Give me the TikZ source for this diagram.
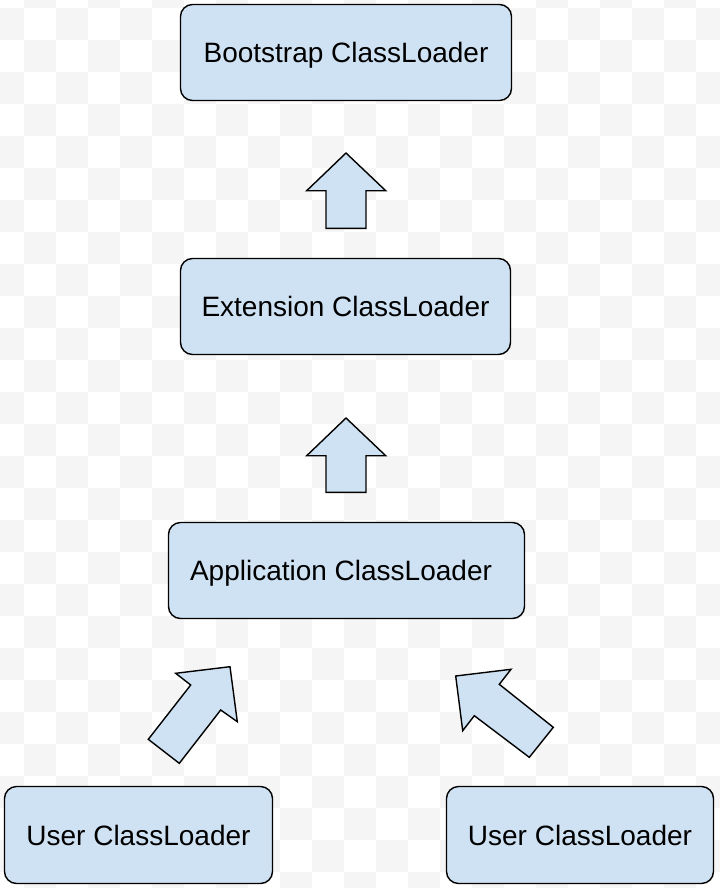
\documentclass[tikz,border=0pt]{standalone}
\usepackage{fontspec}
\setmainfont{Liberation Sans}
\definecolor{boxblue}{HTML}{CFE2F3}
\definecolor{checker}{HTML}{F5F5F5}
\begin{document}
\begin{tikzpicture}[x=1pt,y=-1pt,
  loaderbox/.style={draw=black, line width=1.4pt, fill=boxblue, rounded corners=12pt,
    inner sep=0pt, minimum height=96pt, text height=20pt, text depth=0pt,
    font=\fontsize{28}{34}\selectfont},
  blockarrow/.style={draw=black, line width=1.4pt, fill=boxblue, line join=miter}]
\useasboundingbox (0,0) rectangle (720,888);
\begin{scope}
\clip (0,0) rectangle (720,888);
\fill[white] (0,0) rectangle (720,888);
\foreach \r in {0,...,28}{
  \foreach \c in {0,...,23}{
    \pgfmathtruncatemacro\cellpar{mod(\r+\c,2)}
    \ifnum\cellpar=1
      \fill[checker] ({32*\c-8},{32*\r-24}) rectangle ({32*\c+24},{32*\r+8});
    \fi
  }
}
\end{scope}

\node[loaderbox, minimum width=331pt] (boot) at (346,52.5) {Bootstrap ClassLoader};
\node[loaderbox, minimum width=330pt] (ext) at (345.5,306.5) {Extension ClassLoader};
\node[loaderbox, minimum width=356pt] (app) at (346.5,570.5) {Application ClassLoader\hspace*{11pt}};
\node[loaderbox, minimum width=268pt, minimum height=97pt] (userl) at (138.5,835) {User ClassLoader};
\node[loaderbox, minimum width=267pt, minimum height=97pt] (userr) at (580,835) {User ClassLoader};

% block arrows
\draw[blockarrow] (346,153) -- (385.7,190.7) -- (366,190.7) -- (366,228.3) -- (326,228.3) -- (326,190.7) -- (306.7,190.7) -- cycle;
\draw[blockarrow] (346,418) -- (385.7,455.7) -- (366,455.7) -- (366,492.3) -- (326,492.3) -- (326,455.7) -- (306.7,455.7) -- cycle;
\draw[blockarrow] (230,666.7) -- (237.3,721.7) -- (220.7,710) -- (179.3,763.3) -- (148.3,739.3) -- (190.7,685) -- (175.7,673.3) -- cycle;
\draw[blockarrow] (455.7,676) -- (511,669.3) -- (499.3,684.3) -- (553.3,727.3) -- (529.3,757.3) -- (474.3,715.7) -- (462.7,730.7) -- cycle;
\end{tikzpicture}
\end{document}
